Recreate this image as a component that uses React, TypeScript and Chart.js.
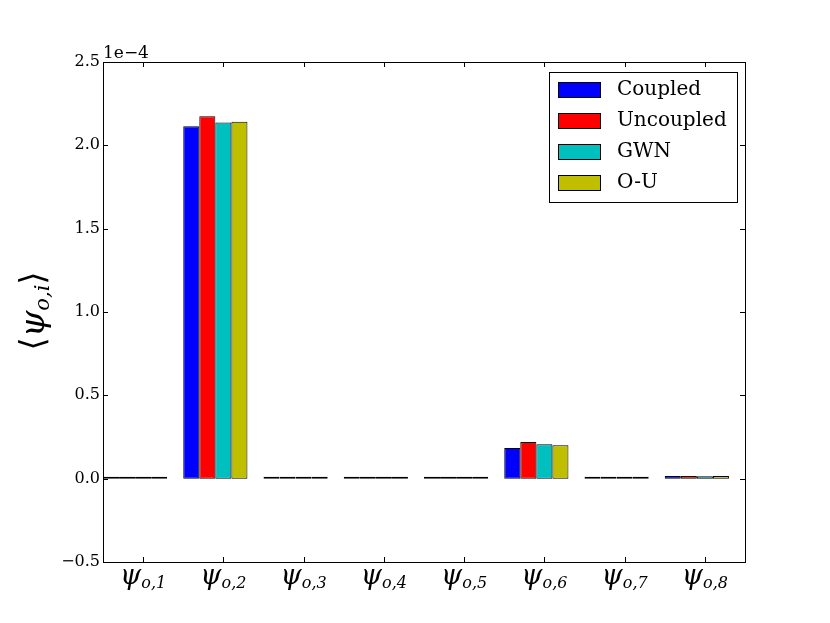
import React, { useEffect, useRef } from 'react';
import { Chart, registerables, Plugin } from 'chart.js';

Chart.register(...registerables);

// values
const categories = ['1', '2', '3', '4', '5', '6', '7', '8'];
const seriesNames = ['Coupled', 'Uncoupled', 'GWN', 'O-U'];
const seriesColors = ['#0000ff', '#ff0000', '#00bfbf', '#bfbf00'];
const coupled = [0.001e-4, 2.115e-4, 0.001e-4, 0.001e-4, 0.001e-4, 0.184e-4, 0.001e-4, 0.016e-4];
const uncoupled = [0.002e-4, 2.174e-4, 0.001e-4, 0.001e-4, 0.001e-4, 0.220e-4, 0.001e-4, 0.016e-4];
const gwn = [0.001e-4, 2.137e-4, 0.001e-4, 0.001e-4, 0.001e-4, 0.207e-4, 0.001e-4, 0.015e-4];
const ou = [0.001e-4, 2.142e-4, 0.001e-4, 0.001e-4, 0.001e-4, 0.200e-4, 0.001e-4, 0.016e-4];
const yTicks = [-0.5, 0.0, 0.5, 1.0, 1.5, 2.0, 2.5];
const yScaleExp = 1e-4;

const SERIF = '"DejaVu Serif", serif';

const decor: Plugin = {
  id: 'decor',
  afterDraw(chart) {
    const { ctx, chartArea: a } = chart;
    const xs = chart.scales.x;
    const ys = chart.scales.y;
    ctx.save();
    ctx.strokeStyle = '#000';
    ctx.lineWidth = 1;
    // inward ticks on all four sides
    ctx.beginPath();
    yTicks.forEach((t) => {
      const py = Math.round(ys.getPixelForValue(t * yScaleExp)) + 0.5;
      ctx.moveTo(a.left, py); ctx.lineTo(a.left + 5, py);
      ctx.moveTo(a.right, py); ctx.lineTo(a.right - 5, py);
    });
    categories.forEach((_, i) => {
      const px = Math.round(xs.getPixelForValue(i + 0.5)) + 0.5;
      ctx.moveTo(px, a.bottom); ctx.lineTo(px, a.bottom - 5);
      ctx.moveTo(px, a.top); ctx.lineTo(px, a.top + 5);
    });
    ctx.stroke();
    ctx.strokeRect(Math.round(a.left) + 0.5, Math.round(a.top) + 0.5, Math.round(a.right - a.left), Math.round(a.bottom - a.top));

    ctx.fillStyle = '#000';
    // offset text
    ctx.font = `17px ${SERIF}`;
    ctx.textAlign = 'left';
    ctx.textBaseline = 'alphabetic';
    ctx.fillText('1e\u22124', a.left, a.top - 4);

    // x tick labels: psi with subscript o,i
    const bigF = `italic 27px ${SERIF}`;
    const subF = `italic 16px ${SERIF}`;
    categories.forEach((c, i) => {
      const px = xs.getPixelForValue(i + 0.5);
      ctx.font = bigF;
      const w1 = ctx.measureText('\u03c8').width;
      ctx.font = subF;
      const w2 = ctx.measureText('o,' + c).width;
      const x0 = px - (w1 + w2) / 2;
      ctx.font = bigF;
      ctx.fillText('\u03c8', x0, 584);
      ctx.font = subF;
      ctx.fillText('o,' + c, x0 + w1, 588);
    });

    // y axis label
    ctx.save();
    ctx.translate(44, 311);
    ctx.rotate(-Math.PI / 2);
    const brF = `34px ${SERIF}`;
    const psF = `italic 34px ${SERIF}`;
    const sbF = `italic 21px ${SERIF}`;
    ctx.font = brF;
    const bw = ctx.measureText('\u27e8').width;
    ctx.font = psF;
    const pw = ctx.measureText('\u03c8').width;
    ctx.font = sbF;
    const sw = ctx.measureText('o,i').width;
    let x = -(bw * 2 + pw + sw) / 2;
    ctx.font = brF; ctx.fillText('\u27e8', x, 0); x += bw;
    ctx.font = psF; ctx.fillText('\u03c8', x, 0); x += pw;
    ctx.font = sbF; ctx.fillText('o,i', x, 5); x += sw;
    ctx.font = brF; ctx.fillText('\u27e9', x, 0);
    ctx.restore();

    // legend box
    const lx = 549, ly = 72, lw = 188, lh = 130;
    ctx.fillStyle = '#fff';
    ctx.fillRect(lx, ly, lw, lh);
    ctx.strokeRect(lx + 0.5, ly + 0.5, lw, lh);
    ctx.font = `20px ${SERIF}`;
    ctx.textBaseline = 'middle';
    chart.data.datasets.forEach((ds, k) => {
      const top = 82 + k * 31;
      ctx.fillStyle = ds.backgroundColor as string;
      ctx.fillRect(558, top, 42, 15);
      ctx.strokeRect(558.5, top + 0.5, 42, 15);
      ctx.fillStyle = '#000';
      ctx.fillText(ds.label as string, 617, top + 8);
    });
    ctx.restore();
  },
};

export default function App() {
  const canvasRef = useRef<HTMLCanvasElement | null>(null);

  useEffect(() => {
    const canvas = canvasRef.current;
    if (!canvas) return;
    const series = [coupled, uncoupled, gwn, ou];
    const chart = new Chart(canvas, {
      type: 'bar',
      data: {
        datasets: series.map((vals, k) => ({
          label: seriesNames[k],
          data: vals.map((v, i) => ({ x: i + 0.4, y: v })),
          backgroundColor: seriesColors[k],
          borderColor: '#000',
          borderWidth: 1,
          borderSkipped: false,
          inflateAmount: 0,
          minBarLength: 2,
        })),
      },
      options: {
        animation: false,
        responsive: false,
        devicePixelRatio: 1,
        layout: { padding: { left: 0, right: 85, top: 62, bottom: 0 } },
        plugins: { legend: { display: false }, tooltip: { enabled: false } },
        datasets: { bar: { categoryPercentage: 0.8, barPercentage: 1.0 } },
        scales: {
          x: {
            type: 'linear',
            min: 0,
            max: 8,
            offset: false,
            grid: { display: false },
            border: { display: false },
            ticks: { display: false },
            afterFit: (s: any) => { s.height = 61; },
          },
          y: {
            min: -0.5 * yScaleExp,
            max: 2.5 * yScaleExp,
            afterBuildTicks: (s: any) => { s.ticks = yTicks.map((t) => ({ value: t * yScaleExp })); },
            grid: { display: false, drawTicks: false },
            border: { display: false },
            ticks: {
              padding: 3,
              color: '#000',
              font: { family: SERIF, size: 16 },
              callback: (v: any) => (Number(v) / yScaleExp).toFixed(1).replace('-', '\u2212'),
            },
            afterFit: (s: any) => { s.width = 103; },
          },
        },
      },
      plugins: [decor],
    });
    return () => chart.destroy();
  }, []);

  return (
    <div style={{ position: 'fixed', left: 0, top: 0, width: 830, height: 623, background: '#fff' }}>
      <canvas ref={canvasRef} width={830} height={623} />
    </div>
  );
}
